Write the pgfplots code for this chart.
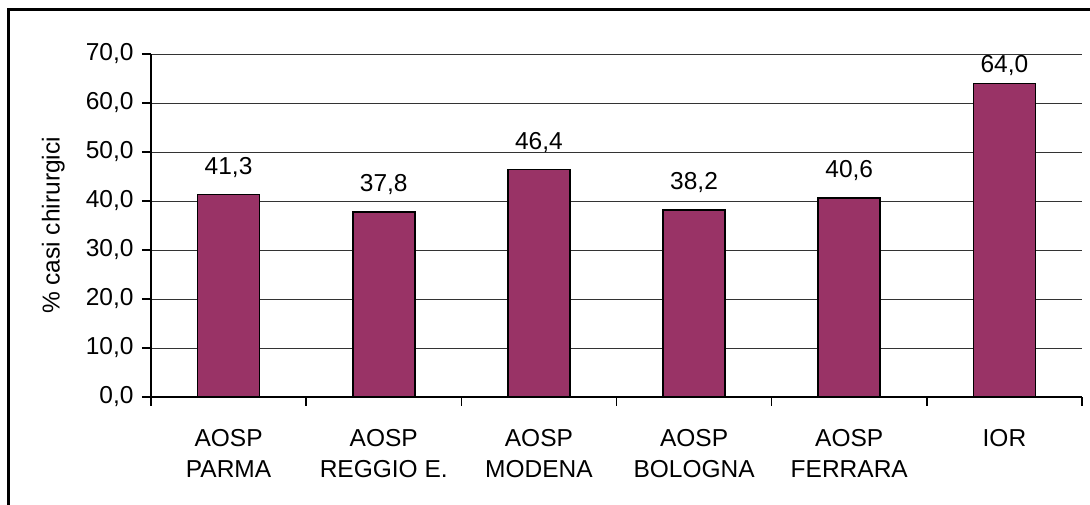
\documentclass[border=0pt]{standalone}
\usepackage{fontspec}
\setmainfont{Liberation Sans}
\usepackage{pgfplots}
\pgfplotsset{compat=1.18}
\definecolor{plum}{HTML}{993366}

\begin{document}
\begin{tikzpicture}[font=\fontsize{24.5}{31}\selectfont]
  % page = 1090 x 505, origin at the lower-left corner of the plot area
  \useasboundingbox (-151pt,-108pt) rectangle (939pt,397pt);
  \pgfkeys{/pgf/number format/.cd, fixed, fixed zerofill, precision=1, use comma, assume math mode=true}
  \begin{axis}[
    at={(0pt,0pt)}, anchor=south west,
    scale only axis,
    width=931pt, height=343pt,
    ybar, bar width=62pt, bar shift=0pt,
    xmin=-0.5, xmax=5.5,
    ymin=0, ymax=70,
    enlarge x limits=false, enlarge y limits=false,
    axis lines=left,
    axis line style={-, line width=1.6pt},
    tick align=outside,
    major tick length=9pt,
    minor tick length=9pt,
    tick style={black, line width=1.4pt},
    xtick={0,1,2,3,4,5},
    minor xtick={-0.5,0.5,1.5,2.5,3.5,4.5,5.5},
    major x tick style={draw=none},
    xticklabels={{AOSP\\PARMA},{AOSP\\REGGIO E.},{AOSP\\MODENA},{AOSP\\BOLOGNA},{AOSP\\FERRARA},{IOR}},
    xticklabel style={align=center, anchor=north, yshift=-20pt},
    ytick={0,10,...,70},
    yticklabel style={xshift=-5pt},
    ymajorgrids,
    major grid style={black!80, line width=0.8pt},
    ylabel={\% casi chirurgici},
    ylabel style={at={(axis description cs:-0.105,0.5)}, anchor=center},
    nodes near coords,
    tick label style={black},
  ]
    \addplot[fill=plum, draw=black, line width=1.6pt,
      nodes near coords style={black, yshift=13pt}] coordinates {
      (0,41.3) (1,37.8) (2,46.4) (3,38.2) (4,40.6)
    };
    % the top label is kept inside the plot area, as in the original
    \addplot[fill=plum, draw=black, line width=1.6pt,
      nodes near coords style={black, yshift=4pt}] coordinates {
      (5,64.0)
    };
  \end{axis}
  % outer chart frame (only left and top edges fall inside the picture)
  \draw[line width=3pt] (-142pt,-200pt) -- (-142pt,387pt) -- (1200pt,387pt);
\end{tikzpicture}
\end{document}
